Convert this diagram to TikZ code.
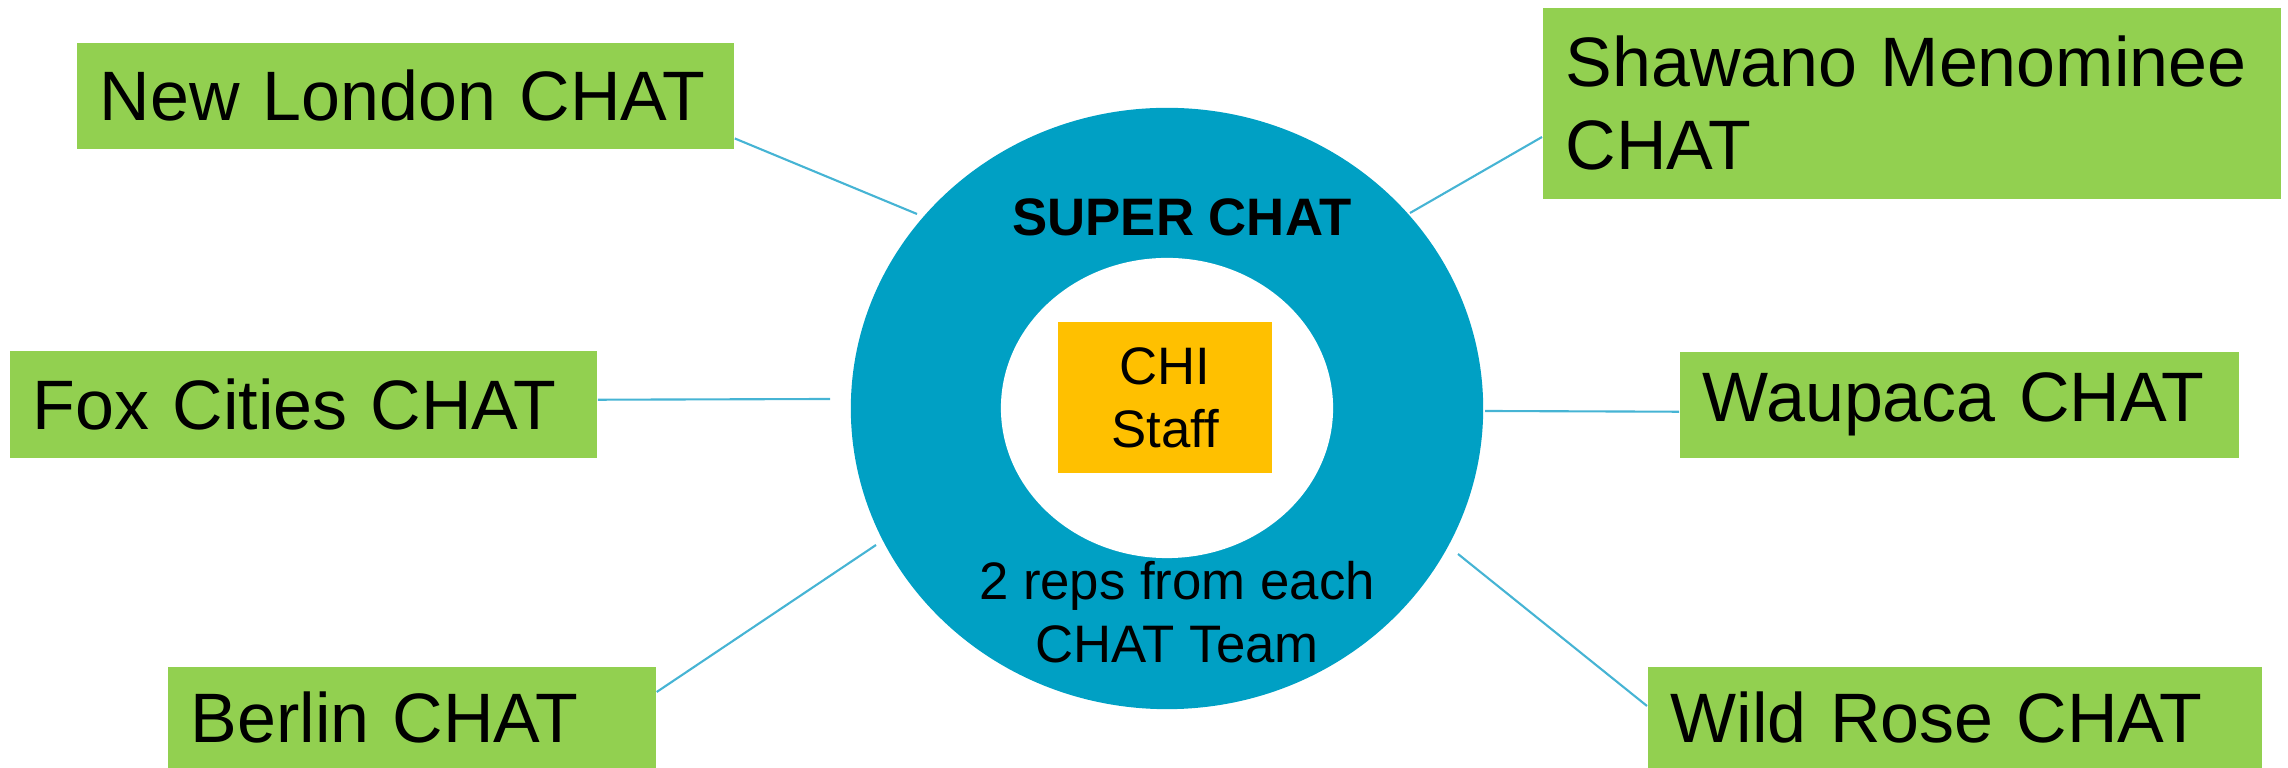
\documentclass[tikz,border=0pt]{standalone}
\usepackage{fontspec}
\setmainfont{Liberation Sans}
\usepackage{tikz}
\usetikzlibrary{calc, shapes}
\definecolor{chatgreen}{RGB}{146,208,80}
\definecolor{chiorange}{RGB}{255,192,0}
\definecolor{ringblue}{RGB}{0,160,196}
\definecolor{linkblue}{RGB}{70,180,212}
\tikzstyle{chatbox} = [rectangle, fill=chatgreen, anchor=north west, align=left, inner xsep=0.23cm, inner ysep=0pt, font=\fontsize{19.9}{23.6}\selectfont]
\tikzstyle{link} = [draw=linkblue, line width=0.6pt]

\begin{document}
\begin{tikzpicture}[x=0.01cm, y=-0.01cm]
        \useasboundingbox (0,0) rectangle (2288,768);

        % ring
        \node[ellipse, fill=ringblue, inner sep=0, minimum width=6.32cm, minimum height=6.01cm] at (1167,408.5) (ring) {};
        \node[ellipse, fill=white, inner sep=0, minimum width=3.32cm, minimum height=3.00cm] at (1167,408) (hole) {};
        \node[font=\fontsize{15}{18}\selectfont\bfseries] at (1182,217) (supertitle) {SUPER CHAT};
        \node[rectangle, fill=chiorange, minimum width=2.14cm, minimum height=1.51cm, align=center, font=\fontsize{15}{17.9}\selectfont] at (1165,397.5) (chistaff) {CHI\\Staff};
        \node[align=center, inner sep=0, font=\fontsize{15}{17.9}\selectfont] at (1177,612) (reps) {2 reps from each\\CHAT Team};

        % teams
        \node[chatbox, minimum width=6.57cm, minimum height=1.06cm, text width=6.11cm] at (76,42) (newlondon) {New London CHAT};
        \node[chatbox, minimum width=5.87cm, minimum height=1.07cm, text width=5.41cm] at (9,350) (foxcities) {Fox Cities CHAT};
        \node[chatbox, minimum width=4.88cm, minimum height=1.02cm, text width=4.42cm] at (167,666) (berlin) {Berlin CHAT};
        \node[chatbox, minimum width=7.38cm, minimum height=1.91cm, text width=6.92cm] at (1542,7) (shawano) {Shawano Menominee\\CHAT};
        \node[chatbox, minimum width=5.59cm, minimum height=1.06cm, text width=5.13cm] at (1679,351) (waupaca) {Waupaca CHAT};
        \node[chatbox, minimum width=6.14cm, minimum height=1.02cm, text width=5.68cm] at (1647,666) (wildrose) {Wild Rose CHAT};

        \coordinate (nlend) at (917,214);
        \coordinate (fcend) at (830,399);
        \coordinate (brend) at (876,545);
        \coordinate (shend) at (1410,213);
        \coordinate (wpend) at (1485,411);
        \coordinate (wrend) at (1458,554);

        \draw[link] (newlondon.south east)++(0,-11) -- (nlend);
        \draw[link] (foxcities.east)++(0,-4.5) -- (fcend);
        \draw[link] (berlin.north east)++(0,26) -- (brend);
        \draw[link] (shawano.north west)++(0,130) -- (shend);
        \draw[link] (waupaca.west)++(0,7) -- (wpend);
        \draw[link] (wildrose.north west)++(0,40) -- (wrend);
    \end{tikzpicture}
\end{document}
